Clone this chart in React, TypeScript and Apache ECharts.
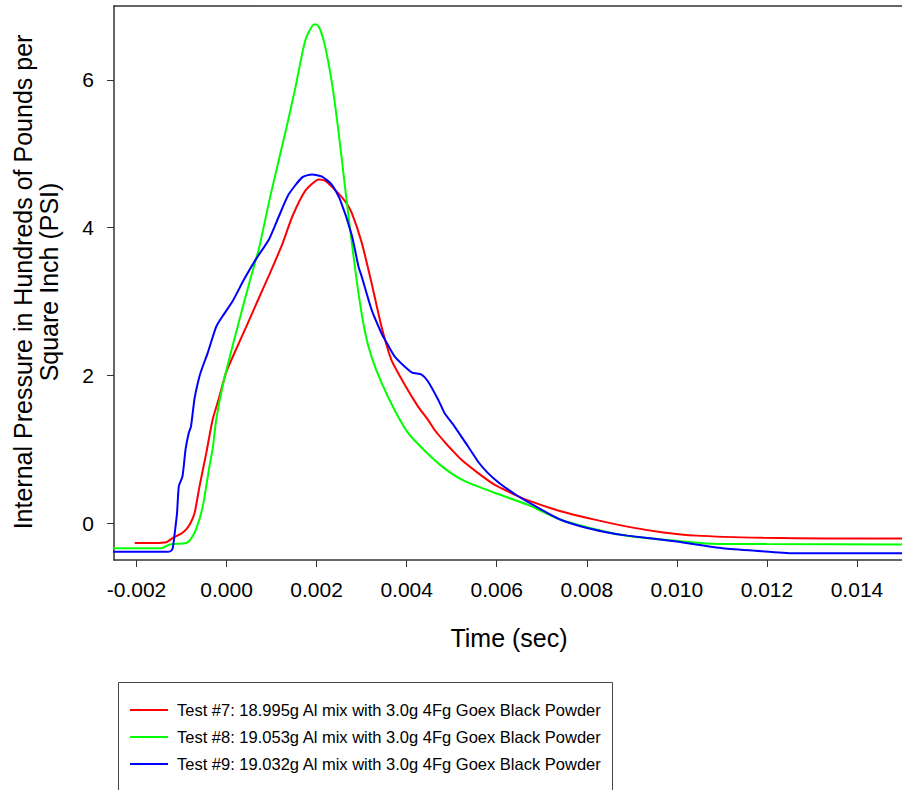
import React, { useEffect, useRef } from "react";
import * as echarts from "echarts";

// time in milliseconds, pressure in hundreds of PSI
const test7: [number, number][] = [
  [-2.04, -0.27], [-1.6, -0.27], [-1.34, -0.26], [-1.19, -0.2], [-1.0, -0.14], [-0.9, -0.09],
  [-0.8, 0.0], [-0.71, 0.135], [-0.6, 0.5], [-0.45, 0.95], [-0.31, 1.4], [-0.16, 1.71],
  [-0.01, 2.04], [0.21, 2.35], [0.43, 2.65], [0.72, 3.05], [0.94, 3.35], [1.24, 3.78],
  [1.46, 4.15], [1.75, 4.5], [2.05, 4.65], [2.2, 4.63], [2.41, 4.51], [2.64, 4.35],
  [2.78, 4.2], [3.0, 3.8], [3.22, 3.25], [3.44, 2.66], [3.66, 2.21], [3.96, 1.87],
  [4.25, 1.58], [4.47, 1.4], [4.62, 1.26], [4.84, 1.1], [4.99, 1.0], [5.21, 0.86],
  [5.58, 0.68], [5.95, 0.52], [6.31, 0.41], [6.68, 0.31], [7.42, 0.16], [8.15, 0.05],
  [8.96, -0.055], [9.7, -0.127], [10.43, -0.17], [11.9, -0.2], [13.38, -0.21], [15.0, -0.21],
];

const test8: [number, number][] = [
  [-2.52, -0.34], [-1.45, -0.34], [-1.26, -0.29], [-0.9, -0.27], [-0.8, -0.22], [-0.68, -0.09],
  [-0.53, 0.22], [-0.38, 0.77], [-0.31, 1.0], [-0.23, 1.4], [-0.09, 1.85], [0.13, 2.39],
  [0.35, 2.9], [0.54, 3.33], [0.72, 3.72], [0.98, 4.45], [1.31, 5.3], [1.53, 5.9],
  [1.75, 6.54], [1.94, 6.75], [2.0, 6.75], [2.08, 6.68], [2.19, 6.45], [2.34, 5.96],
  [2.49, 5.28], [2.64, 4.5], [2.78, 3.8], [2.93, 3.11], [3.08, 2.57], [3.22, 2.25],
  [3.44, 1.9], [3.74, 1.52], [4.03, 1.22], [4.4, 0.98], [4.84, 0.74], [5.28, 0.57],
  [5.95, 0.41], [6.68, 0.25], [7.42, 0.045], [8.23, -0.09], [8.96, -0.18],
  [9.99, -0.24], [10.8, -0.28], [12.0, -0.285], [15.0, -0.29],
];

const test9: [number, number][] = [
  [-2.52, -0.39], [-1.3, -0.39], [-1.22, -0.37], [-1.19, -0.32], [-1.15, -0.13], [-1.1, 0.135],
  [-1.06, 0.5], [-0.98, 0.63], [-0.91, 1.0], [-0.84, 1.22], [-0.79, 1.31], [-0.71, 1.69],
  [-0.6, 1.99], [-0.53, 2.12], [-0.42, 2.3], [-0.23, 2.66], [-0.09, 2.8], [0.13, 3.0],
  [0.39, 3.3], [0.65, 3.57], [0.94, 3.84], [1.16, 4.15], [1.38, 4.45], [1.68, 4.68],
  [1.9, 4.72], [2.12, 4.69], [2.34, 4.58], [2.52, 4.38], [2.78, 3.9], [2.93, 3.47],
  [3.0, 3.34], [3.22, 2.89], [3.44, 2.57], [3.52, 2.48], [3.74, 2.25], [4.11, 2.04],
  [4.33, 2.01], [4.47, 1.92], [4.7, 1.67], [4.84, 1.49], [5.06, 1.31], [5.36, 1.04],
  [5.6, 0.82], [5.8, 0.68], [6.02, 0.56], [6.24, 0.46], [6.46, 0.37], [6.68, 0.29],
  [7.13, 0.135], [7.42, 0.045], [7.9, -0.05], [8.4, -0.12], [8.9, -0.17], [9.99, -0.25],
  [11.02, -0.34], [11.9, -0.38], [12.64, -0.41], [15.0, -0.41],
];

const seriesNames = [
  "Test #7: 18.995g Al mix with 3.0g 4Fg Goex Black Powder",
  "Test #8: 19.053g Al mix with 3.0g 4Fg Goex Black Powder",
  "Test #9: 19.032g Al mix with 3.0g 4Fg Goex Black Powder",
];
const seriesColors = ["#ff0000", "#00ff00", "#0000ff"];
const xTicks = [-0.002, 0.0, 0.002, 0.004, 0.006, 0.008, 0.01, 0.012, 0.014];
const yTicks = [0, 2, 4, 6];
const xTitle = "Time (sec)";
const yTitle = "Internal Pressure in Hundreds of Pounds per\nSquare Inch (PSI)";

const FONT = "'Liberation Sans', Arial, sans-serif";

export default function App() {
  const ref = useRef<HTMLDivElement>(null);
  useEffect(() => {
    if (!ref.current) return;
    const chart = echarts.init(ref.current, undefined, { renderer: "svg" });
    const all = [test7, test8, test9];
    chart.setOption({
      animation: false,
      backgroundColor: "#ffffff",
      grid: { left: 114, right: -5, top: 6, bottom: 230, containLabel: false },
      xAxis: [
        {
          type: "value",
          min: -0.0025,
          max: 0.015,
          position: "bottom",
          splitLine: { show: false },
          axisLine: { show: true, onZero: false, lineStyle: { color: "#333", width: 1.5 } },
          axisTick: { show: true, customValues: xTicks, length: 7, lineStyle: { color: "#333" } },
          axisLabel: {
            customValues: xTicks,
            margin: 19,
            fontSize: 21,
            fontFamily: FONT,
            color: "#000",
            formatter: (v: number) => v.toFixed(3),
          },
        },
        {
          type: "value",
          min: -0.0025,
          max: 0.015,
          position: "top",
          splitLine: { show: false },
          axisLine: { show: true, onZero: false, lineStyle: { color: "#333", width: 1.5 } },
          axisTick: { show: false },
          axisLabel: { show: false },
        },
      ],
      yAxis: {
        type: "value",
        min: -0.5,
        max: 7,
        splitLine: { show: false },
        axisLine: { show: true, onZero: false, lineStyle: { color: "#333", width: 1.5 } },
        axisTick: { show: true, customValues: yTicks, length: 7, lineStyle: { color: "#333" } },
        axisLabel: {
          customValues: yTicks,
          margin: 20,
          fontSize: 21,
          fontFamily: FONT,
          color: "#000",
          formatter: (v: number) => String(v),
        },
      },
      legend: {
        orient: "vertical",
        left: 130,
        top: 701,
        padding: 0,
        icon: "rect",
        itemWidth: 38,
        itemHeight: 2,
        itemGap: 9,
        data: seriesNames,
        textStyle: {
          fontFamily: FONT,
          fontSize: 16.5,
          lineHeight: 18,
          color: "#000",
          padding: [0, 0, 0, 4],
        },
      },
      graphic: [
        {
          type: "rect",
          shape: { x: 118.5, y: 682.5, width: 494, height: 200 },
          style: { fill: "none", stroke: "#444", lineWidth: 1 },
          silent: true,
        },
        {
          type: "text",
          x: 509,
          y: 638,
          style: {
            text: xTitle,
            font: `25px ${FONT}`,
            fill: "#000",
            align: "center",
            verticalAlign: "middle",
            textAlign: "center",
            textVerticalAlign: "middle",
          },
        },
        {
          type: "text",
          x: 36,
          y: 282,
          rotation: Math.PI / 2,
          style: {
            text: yTitle,
            font: `25px ${FONT}`,
            lineHeight: 26,
            fill: "#000",
            align: "center",
            verticalAlign: "middle",
            textAlign: "center",
            textVerticalAlign: "middle",
          },
        },
      ],
      series: all.map((d, i) => ({
        name: seriesNames[i],
        type: "line",
        xAxisIndex: 0,
        symbol: "none",
        showSymbol: false,
        smooth: 0.2,
        color: seriesColors[i],
        lineStyle: { color: seriesColors[i], width: 2 },
        data: d.map(([t, v]) => [t / 1000, v]),
      })),
    });
    return () => chart.dispose();
  }, []);
  return (
    <div
      ref={ref}
      style={{ position: "fixed", left: 0, top: 0, width: 902, height: 790, background: "#fff" }}
    />
  );
}
